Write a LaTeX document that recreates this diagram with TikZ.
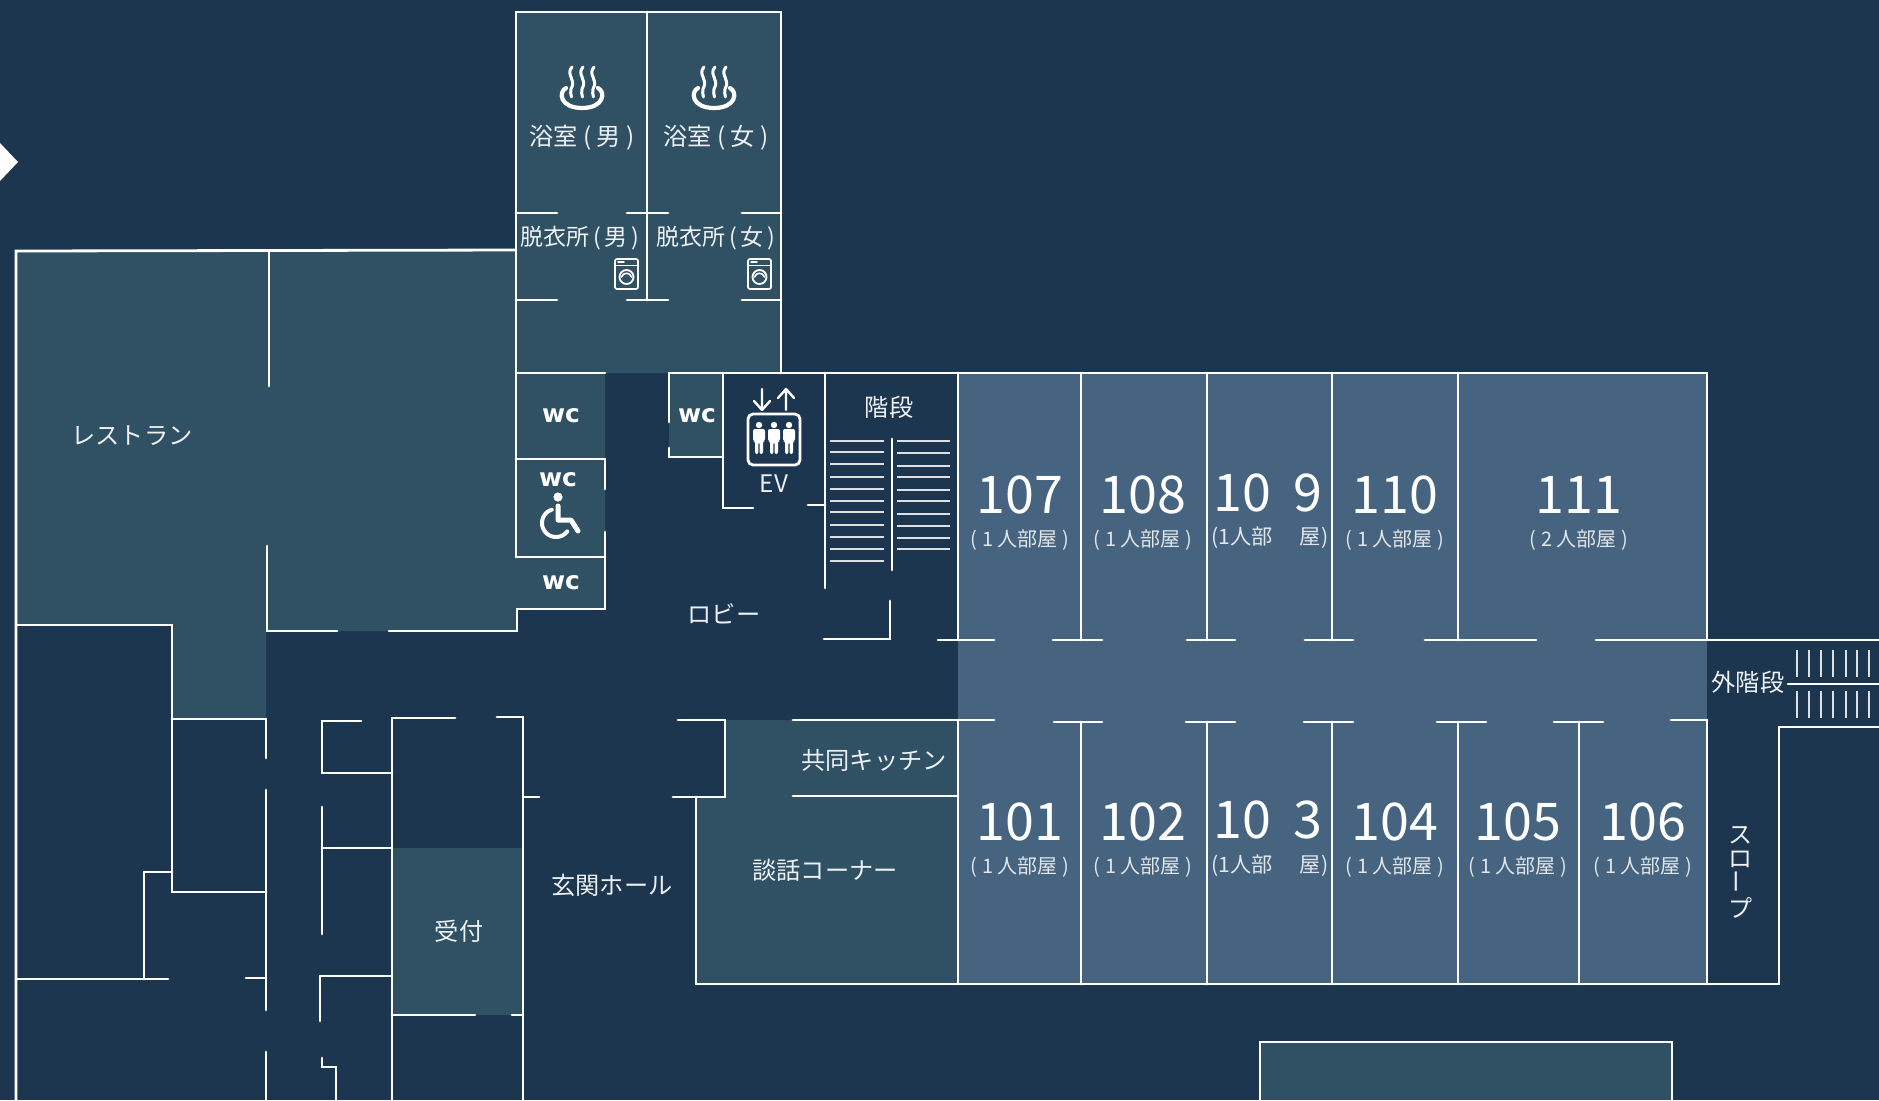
\documentclass[tikz,border=0pt]{standalone}
\usepackage{fontspec}
\usepackage{graphicx}
\setmainfont{Noto Sans CJK JP}
\newfontfamily\wcfont{DejaVu Sans}
\definecolor{bgc}{HTML}{1C3650}
\definecolor{litec}{HTML}{305064}
\definecolor{roomc}{HTML}{46647F}
\definecolor{txtc}{HTML}{EEF1F4}
\newcommand{\pxf}[1]{\fontsize{#1}{#1}\selectfont}
\tikzset{
  wall/.style={draw=white,line width=1.4pt,line cap=round,line join=miter},
  tread/.style={draw=white!85!bgc,line width=0.8pt},
  lbl/.style={text=txtc,font=\pxf{12.1},inner sep=0pt},
  num/.style={text=white,font=\pxf{26},inner sep=0pt},
  subl/.style={text=txtc!92!roomc,font=\pxf{10},inner sep=0pt},
  wcl/.style={text=white,font=\wcfont\bfseries\pxf{12.5},inner sep=0pt},
  icon/.style={draw=white,line cap=round,line join=round},
  bath/.pic={
    \draw[icon,line width=2.1pt] (-16,-7) .. controls (-24,-3) and (-22,13) .. (0,13) .. controls (22,13) and (24,-3) .. (16,-7);
    \foreach \dx in {-11,0,11}{
      \draw[icon,line width=1.5pt] (\dx+1,-28) .. controls (\dx-6,-20) and (\dx+6,-16) .. (\dx,-6) .. controls (\dx-1.5,-3.5) and (\dx+.5,-1) .. (\dx+.5,2);
    }
  },
  washer/.pic={
    \draw[icon,line width=.85pt,rounded corners=1pt] (0,0) rectangle (23,30);
    \draw[icon,line width=.6pt] (0,6.5) -- (23,6.5);
    \draw[icon,line width=.7pt] (3,3) -- (9,3);
    \draw[icon,line width=.9pt] (11.5,18) circle[radius=7];
    \draw[icon,line width=.8pt] (6.5,18) .. controls (8,13) and (15,13) .. (16.5,18);
  },
  person/.pic={
    \fill[white] (0,0) circle[radius=3.2];
    \fill[white,rounded corners=1pt] (-6,4) -- (6,4) -- (6,16) -- (4,16) -- (4,29) -- (.6,29) -- (.6,17) -- (-.6,17) -- (-.6,29) -- (-4,29) -- (-4,16) -- (-6,16) -- cycle;
  }
}
\begin{document}
\begin{tikzpicture}[x=0.5pt,y=-0.5pt]
\path[use as bounding box] (0,0) rectangle (1879,1100);
\clip (0,0) rectangle (1879,1100);
\fill[bgc] (0,0) rectangle (1879,1100);
% fills
\fill[litec] (16,250) -- (516,250) -- (516,12) -- (781,12) -- (781,373) -- (605,373) -- (605,609) -- (517,609) -- (517,631) -- (266,631) -- (266,719) -- (172,719) -- (172,625) -- (16,625) -- cycle;
\fill[litec] (669,373) rectangle (723,457);
\fill[litec] (725,720) -- (958,720) -- (958,984) -- (696,984) -- (696,797) -- (725,797) -- cycle;
\fill[litec] (392,848) rectangle (523,1015);
\fill[litec] (1260,1042) rectangle (1672,1100);
\fill[roomc] (958,373) rectangle (1707,984);
% diamond
\fill[white] (-20,162) -- (0,143) -- (18,162) -- (0,181) -- cycle;
% walls: bath block
\draw[wall] (16,1100) -- (16,251) -- (516,250);
\draw[wall] (516,373) -- (516,12) -- (781,12) -- (781,373);
\draw[wall] (647,12) -- (647,300);
\draw[wall] (516,213) -- (557,213) (627,213) -- (668,213) (742,213) -- (781,213);
\draw[wall] (516,300) -- (557,300) (627,300) -- (668,300) (742,300) -- (781,300);
\draw[wall] (605,373) -- (516,373) -- (516,557);
\draw[wall] (516,459) -- (605,459) -- (605,489);
\draw[wall] (516,557) -- (605,557);
\draw[wall] (605,532) -- (605,609) -- (517,609) -- (517,631) -- (389,631);
\draw[wall] (269,251) -- (269,386);
\draw[wall] (267,546) -- (267,631) -- (337,631);
% restaurant lower
\draw[wall] (16,625) -- (172,625) -- (172,892) -- (266,892);
\draw[wall] (172,719) -- (266,719) -- (266,758);
\draw[wall] (266,790) -- (266,1010);
\draw[wall] (266,1052) -- (266,1100);
\draw[wall] (172,872) -- (144,872) -- (144,979);
\draw[wall] (16,979) -- (168,979);
\draw[wall] (246,978) -- (266,978);
% corridor column
\draw[wall] (361,721) -- (322,721) -- (322,773) -- (392,773);
\draw[wall] (322,807) -- (322,934);
\draw[wall] (322,848) -- (392,848);
\draw[wall] (320,1021) -- (320,976) -- (392,976);
\draw[wall] (322,1058) -- (322,1067) -- (336,1067) -- (336,1100);
\draw[wall] (455,718) -- (392,718) -- (392,1100);
\draw[wall] (497,717) -- (523,717) -- (523,1100);
\draw[wall] (523,797) -- (539,797);
\draw[wall] (392,1015) -- (475,1015);
\draw[wall] (512,1015) -- (523,1015);
% centre block
\draw[wall] (669,422) -- (669,373) -- (1707,373) -- (1707,640);
\draw[wall] (669,448) -- (669,457) -- (723,457);
\draw[wall] (723,373) -- (723,508) -- (753,508);
\draw[wall] (825,373) -- (825,588);
\draw[wall] (808,505) -- (825,505);
\draw[wall] (892,439) -- (892,570);
\draw[wall] (890,601) -- (890,639) -- (824,639);
\draw[wall] (958,373) -- (958,640);
\draw[wall] (1081,373) -- (1081,640);
\draw[wall] (1207,373) -- (1207,640);
\draw[wall] (1332,373) -- (1332,640);
\draw[wall] (1458,373) -- (1458,640);
\draw[wall] (938,640) -- (994,640) (1053,640) -- (1102,640) (1187,640) -- (1235,640) (1305,640) -- (1353,640) (1425,640) -- (1536,640) (1596,640) -- (1879,640);
\draw[wall] (793,720) -- (994,720) (1054,722) -- (1102,722) (1186,722) -- (1235,722) (1304,722) -- (1353,722) (1437,722) -- (1486,722) (1554,722) -- (1603,722) (1671,720) -- (1707,720);
\draw[wall] (958,720) -- (958,984);
\draw[wall] (1081,722) -- (1081,984);
\draw[wall] (1207,722) -- (1207,984);
\draw[wall] (1332,722) -- (1332,984);
\draw[wall] (1458,722) -- (1458,984);
\draw[wall] (1579,722) -- (1579,984);
\draw[wall] (1707,720) -- (1707,984);
\draw[wall] (696,797) -- (696,984) -- (1779,984) -- (1779,727) -- (1879,727);
\draw[wall] (678,720) -- (725,720) -- (725,797) -- (673,797);
\draw[wall] (793,796) -- (958,796);
\draw[wall] (1788,684) -- (1879,684);
\draw[wall] (1260,1100) -- (1260,1042) -- (1672,1042) -- (1672,1100);
% stair treads
\foreach \yy in {441,452,464,477,489,501,512,525,537,549,561}{\draw[tread] (830,\yy) -- (884,\yy);}
\foreach \yy in {441,453,466,477,490,501,514,526,538,549}{\draw[tread] (897,\yy) -- (950,\yy);}
\foreach \xx in {1797,1809,1821,1833,1846,1857,1869}{\draw[tread] (\xx,650) -- (\xx,677) (\xx,691) -- (\xx,718);}
% icons
\pic at (582,95) {bath};
\pic at (714,95) {bath};
\pic at (615,259) {washer};
\pic at (748,259) {washer};
\draw[icon,line width=1.4pt,rounded corners=2.5pt] (748,414) rectangle (800,465);
\draw[icon,line width=1.2pt] (762,389) -- (762,410) (754,401) -- (762,410) -- (770,401);
\draw[icon,line width=1.2pt] (786,410) -- (786,389) (778,398) -- (786,389) -- (794,398);
\pic at (759,425) {person};
\pic at (774,425) {person};
\pic at (789,425) {person};
\fill[white] (558,497) circle[radius=4.6];
\draw[icon,line width=2.5pt] (558,506) -- (558,520) -- (571,520) -- (578,531);
\draw[icon,line width=2pt] plot[smooth,domain=-108:-323,samples=24] ({556+14*cos(\x)},{523+14*sin(\x)});
% labels
\node[lbl] (bm) at (582,138) {浴室 ( 男 )};
\node[lbl] (bf) at (716,138) {浴室 ( 女 )};
\node[lbl,font=\pxf{11.5}] (dm) at (580,238) {脱衣所\,(\,男\,)};
\node[lbl,font=\pxf{11.5}] (df) at (716,238) {脱衣所\,(\,女\,)};
\node[lbl] (rest) at (132,436) {レストラン};
\node[wcl] (wc1) at (561,416) {wc};
\node[wcl] (wc2) at (697,416) {wc};
\node[wcl] (wc3) at (558,480) {wc};
\node[wcl] (wc4) at (561,583) {wc};
\node[lbl] (ev) at (774,484) {EV};
\node[lbl] (kai) at (889,407) {階段};
\node[lbl] (lob) at (724,614) {ロビー};
\node[lbl] (soto) at (1748,682) {外階段};
\node[lbl,align=center,font=\pxf{12}] (slope) at (1740,872) {ス\\ロ\\\rotatebox{90}{ー}\\プ};
\node[lbl] (kit) at (874,760) {共同キッチン};
\node[lbl] (dan) at (825,870) {談話コーナー};
\node[lbl] (gen) at (612,885) {玄関ホール};
\node[lbl] (uke) at (459,931) {受付};
% rooms
\foreach \nm/\xx in {107/1020,108/1143,110/1395,111/1579}{
  \node[num] (r\nm) at (\xx,495) {\nm};
}
\foreach \nm/\xx in {101/1020,102/1143,104/1395,105/1518,106/1643}{
  \node[num] (r\nm) at (\xx,822) {\nm};
}
\foreach \nm/\xx in {a/1020,b/1143,c/1395}{
  \node[subl] (su\nm) at (\xx,540) {( 1 人部屋 )};
}
\node[subl] (sud) at (1579,540) {( 2 人部屋 )};
\foreach \nm/\xx in {a/1020,b/1143,c/1395,d/1518,e/1643}{
  \node[subl] (sl\nm) at (\xx,867) {( 1 人部屋 )};
}
\node[num] (r109a) at (1242,493) {10};
\node[num] (r109b) at (1308,493) {9};
\node[num] (r103a) at (1242,820) {10};
\node[num] (r103b) at (1308,820) {3};
\node[subl,font=\pxf{10.6}] (s109a) at (1242,538) {(1人部};
\node[subl,font=\pxf{10.6}] (s109b) at (1314,538) {屋)};
\node[subl,font=\pxf{10.6}] (s103a) at (1242,866) {(1人部};
\node[subl,font=\pxf{10.6}] (s103b) at (1314,866) {屋)};
\end{tikzpicture}
\end{document}
